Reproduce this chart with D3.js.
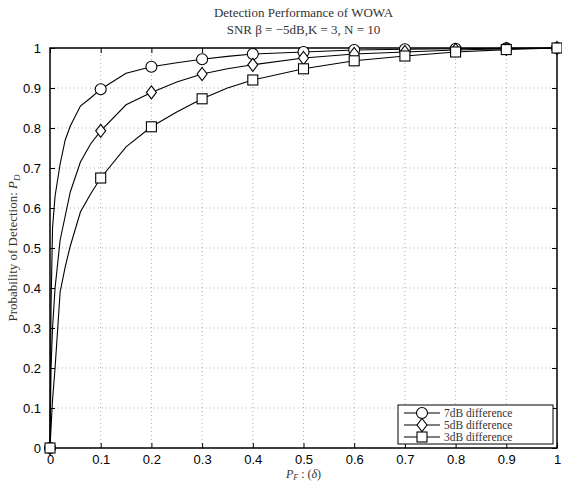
<!DOCTYPE html>
<html><head><meta charset="utf-8">
<script src="https://cdn.jsdelivr.net/npm/d3@7"></script>
<style>body{margin:0;background:#fff}svg{display:block}</style>
</head><body>
<script>
// ---- data ----
const fpGrid = [0, 0.002, 0.005, 0.01, 0.02, 0.03, 0.04, 0.06, 0.08, 0.1, 0.15, 0.2, 0.25, 0.3, 0.35, 0.4, 0.5, 0.6, 0.7, 0.8, 0.9, 1.0];
const pd7dB = [0, 0.35, 0.55, 0.63, 0.71, 0.77, 0.805, 0.855, 0.875, 0.897, 0.937, 0.953, 0.963, 0.972, 0.979, 0.985, 0.99, 0.995, 0.997, 0.998, 0.999, 1];
const pd5dB = [0, 0.2, 0.3, 0.4, 0.52, 0.58, 0.64, 0.715, 0.76, 0.793, 0.858, 0.889, 0.915, 0.935, 0.948, 0.958, 0.975, 0.985, 0.99, 0.995, 0.998, 1];
const pd3dB = [0, 0.05, 0.12, 0.2, 0.39, 0.453, 0.505, 0.59, 0.635, 0.675, 0.753, 0.803, 0.84, 0.873, 0.9, 0.92, 0.948, 0.968, 0.98, 0.99, 0.996, 1];
const markerX = [0, 0.1, 0.2, 0.3, 0.4, 0.5, 0.6, 0.7, 0.8, 0.9, 1.0];
const seriesNames = ["7dB difference", "5dB difference", "3dB difference"];
const seriesMarkers = ["circle", "diamond", "square"];
const xTicks = [0, 0.1, 0.2, 0.3, 0.4, 0.5, 0.6, 0.7, 0.8, 0.9, 1];
const yTicks = [0, 0.1, 0.2, 0.3, 0.4, 0.5, 0.6, 0.7, 0.8, 0.9, 1];
const titleLines = ["Detection Performance of WOWA", "SNR \u03B2 = \u22125dB,K = 3, N = 10"];

const W = 562, H = 482;
const m = {left: 50, right: 5, top: 48, bottom: 34};
const svg = d3.select("body").append("svg").attr("width", W).attr("height", H);
const x = d3.scaleLinear().domain([0, 1]).range([m.left, W - m.right]);
const y = d3.scaleLinear().domain([0, 1]).range([H - m.bottom, m.top]);
const series = [pd7dB, pd5dB, pd3dB];

// grid
const g = svg.append("g");
g.selectAll(".gx").data(xTicks.slice(1, -1)).join("line")
  .attr("x1", d => x(d)).attr("x2", d => x(d)).attr("y1", y(0)).attr("y2", y(1))
  .attr("stroke", "#999").attr("stroke-width", 0.8).attr("stroke-dasharray", "1,3");
g.selectAll(".gy").data(yTicks.slice(1, -1)).join("line")
  .attr("y1", d => y(d)).attr("y2", d => y(d)).attr("x1", x(0)).attr("x2", x(1))
  .attr("stroke", "#999").attr("stroke-width", 0.8).attr("stroke-dasharray", "1,3");

// axes
const fmt = d => d === 0 ? "0" : d === 1 ? "1" : d3.format(".1f")(d);
const axFont = "'Liberation Sans', Arial, sans-serif";
function styleAx(sel){ sel.select(".domain").remove(); sel.selectAll("line").attr("stroke","#000"); sel.selectAll("text").attr("font-family", axFont).attr("font-size", 13).attr("fill","#000"); }
svg.append("g").attr("transform", `translate(0,${y(0)})`)
  .call(d3.axisBottom(x).tickValues(xTicks).tickFormat(fmt).tickSizeInner(-5).tickSizeOuter(0).tickPadding(7)).call(styleAx);
svg.append("g").attr("transform", `translate(0,${y(1)})`)
  .call(d3.axisTop(x).tickValues(xTicks).tickFormat("").tickSizeInner(-5).tickSizeOuter(0)).call(styleAx);
svg.append("g").attr("transform", `translate(${x(0)},0)`)
  .call(d3.axisLeft(y).tickValues(yTicks).tickFormat(fmt).tickSizeInner(-5).tickSizeOuter(0).tickPadding(9)).call(styleAx);
svg.append("g").attr("transform", `translate(${x(1)},0)`)
  .call(d3.axisRight(y).tickValues(yTicks).tickFormat("").tickSizeInner(-5).tickSizeOuter(0)).call(styleAx);
svg.append("rect").attr("x", x(0)).attr("y", y(1)).attr("width", x(1) - x(0)).attr("height", y(0) - y(1))
  .attr("fill", "none").attr("stroke", "#000").attr("stroke-width", 1.5);

// lines
const line = d3.line().x((d, i) => x(fpGrid[i])).y(d => y(d));
series.forEach(s => {
  svg.append("path").datum(s).attr("d", line).attr("fill", "none").attr("stroke", "#000").attr("stroke-width", 1.1);
});

function drawMarker(sel, type, cx, cy) {
  if (type === "circle") sel.append("circle").attr("cx", cx).attr("cy", cy).attr("r", 5.5);
  else if (type === "diamond") sel.append("path").attr("d", `M${cx},${cy-6.5}L${cx+5},${cy}L${cx},${cy+6.5}L${cx-5},${cy}Z`);
  else sel.append("rect").attr("x", cx - 5).attr("y", cy - 5).attr("width", 10).attr("height", 10);
}
const mg = svg.append("g").attr("fill", "#fff").attr("stroke", "#000").attr("stroke-width", 1.1);
series.forEach((s, k) => {
  markerX.forEach(mx => {
    const i = fpGrid.indexOf(mx);
    drawMarker(mg, seriesMarkers[k], x(mx), y(s[i]));
  });
});

// titles
const serif = "'Liberation Serif', 'DejaVu Serif', serif";
svg.append("text").attr("x", (x(0) + x(1)) / 2).attr("y", 17).attr("text-anchor", "middle")
  .attr("font-family", serif).attr("font-size", 13).attr("fill", "#333").text(titleLines[0]);
svg.append("text").attr("x", (x(0) + x(1)) / 2).attr("y", 34).attr("text-anchor", "middle")
  .attr("font-family", serif).attr("font-size", 13).attr("fill", "#333").text(titleLines[1]);

// axis labels
const xl = svg.append("text").attr("x", (x(0) + x(1)) / 2).attr("y", 478).attr("text-anchor", "middle")
  .attr("font-family", serif).attr("font-size", 12).attr("fill", "#333");
xl.append("tspan").attr("font-style", "italic").text("P");
xl.append("tspan").attr("font-style", "italic").attr("font-size", 8).attr("dy", 2).text("F");
xl.append("tspan").attr("dy", -2).text(" : (");
xl.append("tspan").attr("font-style", "italic").text("\u03B4");
xl.append("tspan").text(")");

const yl = svg.append("text").attr("transform", `translate(17,${(y(0) + y(1)) / 2}) rotate(-90)`).attr("text-anchor", "middle")
  .attr("font-family", serif).attr("font-size", 13).attr("fill", "#333");
yl.append("tspan").text("Probability of Detection: ");
yl.append("tspan").attr("font-style", "italic").text("P");
yl.append("tspan").attr("font-style", "italic").attr("font-size", 9).attr("dy", 3).text("D");

// legend
const lg = svg.append("g");
lg.append("rect").attr("x", 398).attr("y", 405).attr("width", 155).attr("height", 39)
  .attr("fill", "#fff").attr("stroke", "#000").attr("stroke-width", 1);
seriesNames.forEach((name, k) => {
  const ly = 413 + k * 12;
  lg.append("line").attr("x1", 404).attr("x2", 440).attr("y1", ly).attr("y2", ly).attr("stroke", "#000").attr("stroke-width", 1.1);
  const mk = lg.append("g").attr("fill", "#fff").attr("stroke", "#000").attr("stroke-width", 1.1);
  drawMarker(mk, seriesMarkers[k], 422, ly);
  lg.append("text").attr("x", 444).attr("y", ly + 3.5).attr("font-family", serif).attr("font-size", 11.5)
    .attr("fill", "#333").text(name);
});
</script>
</body></html>
